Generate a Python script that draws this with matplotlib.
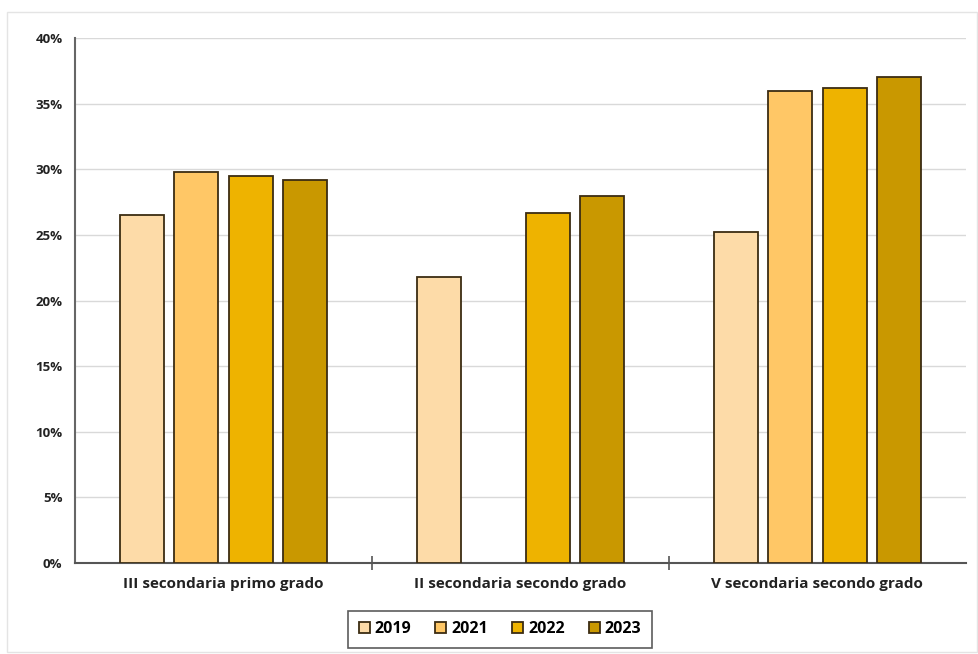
import matplotlib
matplotlib.use("Agg")
import matplotlib.pyplot as plt
import numpy as np
from matplotlib.patches import Rectangle

plt.rcParams['font.family'] = ['Open Sans', 'DejaVu Sans']

# dati
categories = ["III secondaria primo grado", "II secondaria secondo grado", "V secondaria secondo grado"]
years = ["2019", "2021", "2022", "2023"]
val_2019 = [26.5, 21.8, 25.2]
val_2021 = [29.8, np.nan, 36.0]
val_2022 = [29.5, 26.7, 36.2]
val_2023 = [29.2, 28.0, 37.0]
colors = ["#FDDBA8", "#FFC766", "#EEB300", "#C99800"]

fig = plt.figure(figsize=(9.79, 6.54), dpi=100)
ax = fig.add_axes([0.0766, 0.1391, 0.910, 0.8028])

# bordo esterno
fig.patches.append(Rectangle((0.007, 0.003), 0.991, 0.979, transform=fig.transFigure,
                             fill=False, edgecolor="#e4e4e4", linewidth=1.0))

x = np.arange(len(categories))
width = 0.148
step = 0.183
series = [val_2019, val_2021, val_2022, val_2023]
for i, (vals, year, col) in enumerate(zip(series, years, colors)):
    ax.bar(x + (i - 1.5) * step, vals, width=width, color=col, edgecolor="#3b2c12",
           linewidth=1.3, label=year, zorder=3)

ax.set_ylim(0, 40)
ax.set_xlim(-0.5, 2.5)
ax.set_yticks(np.arange(0, 41, 5))
ax.set_yticklabels([f"{v}%" for v in range(0, 41, 5)], fontsize=9.5, fontweight="bold", color="#222222")
ax.grid(axis="y", color="#d9d9d9", linewidth=1.0, zorder=0)

# tick di categoria sui confini
ax.set_xticks(x)
ax.set_xticklabels(categories, fontsize=11, fontweight="bold", color="#222222")
ax.tick_params(axis="x", length=0, pad=10)
ax.set_xticks([0.5, 1.5], minor=True)
ax.tick_params(axis="x", which="minor", length=10, direction="inout", color="#555555", width=1.2)
ax.tick_params(axis="y", length=0, pad=9)

for s in ["top", "right"]:
    ax.spines[s].set_visible(False)
ax.spines["left"].set_color("#666666")
ax.spines["left"].set_linewidth(1.5)
ax.spines["bottom"].set_color("#555555")
ax.spines["bottom"].set_linewidth(1.5)

leg = ax.legend(loc="upper center", bbox_to_anchor=(0.477, -0.091), ncol=4, frameon=True,
                fancybox=False, edgecolor="#333333", fontsize=11.5, handlelength=0.7,
                handleheight=0.7, handletextpad=0.3, columnspacing=1.5, borderpad=0.65,
                borderaxespad=0)
for t in leg.get_texts():
    t.set_fontweight("bold")
leg.get_frame().set_linewidth(1.2)

fig.savefig("out.png", dpi=100)
